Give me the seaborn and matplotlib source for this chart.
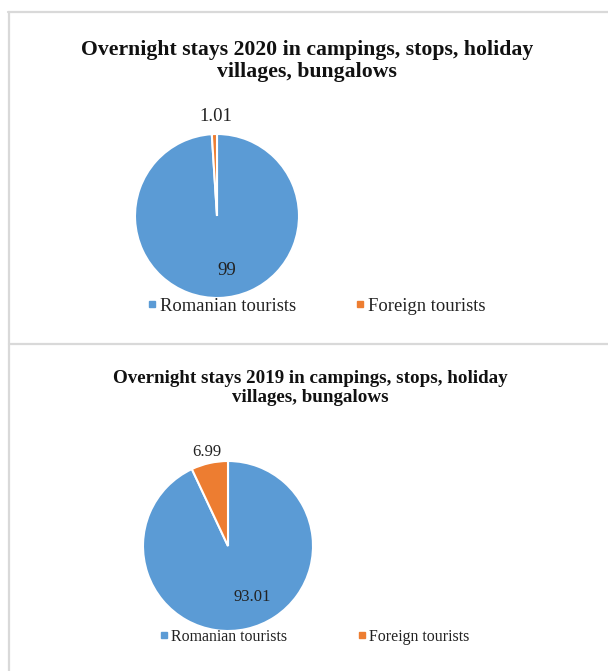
import numpy as np
import matplotlib
matplotlib.use("Agg")
import matplotlib.pyplot as plt
from matplotlib.lines import Line2D
import seaborn as sns

sns.set_theme(style="white")
plt.rcParams['font.family'] = ['Liberation Serif', 'DejaVu Serif']

# data
categories = ['Romanian tourists', 'Foreign tourists']
values_2020 = [99, 1.01]
values_2019 = [93.01, 6.99]
labels_2020 = ['99', '1.01']
labels_2019 = ['93.01', '6.99']
title_2020 = 'Overnight stays 2020 in campings, stops, holiday\nvillages, bungalows'
title_2019 = 'Overnight stays 2019 in campings, stops, holiday\nvillages, bungalows'

colors = ['#5B9BD5', '#ED7D31']
W, H = 608, 671

fig = plt.figure(figsize=(W / 100, H / 100), dpi=100)


def px(x, y):
    # pixel coords (top-left origin) -> figure fraction
    return x / W, 1 - y / H


def draw_pie(values, labels, cx, cy, r, lab_pos, fs_lab):
    ax = fig.add_axes([(cx - r) / W, 1 - (cy + r) / H, 2 * r / W, 2 * r / H])
    ax.pie(values, colors=colors, startangle=90, counterclock=False,
           wedgeprops=dict(edgecolor='white', linewidth=1.5))
    ax.set_xlim(-1, 1)
    ax.set_ylim(-1, 1)
    ax.set_aspect('equal')
    ax.axis('off')
    # label positions from wedge mid angles (clockwise from top)
    total = float(sum(values))
    start = 0.0
    for v, lab, (dist, nudge) in zip(values, labels, lab_pos):
        mid = np.deg2rad(start + v / total * 360 / 2)
        start += v / total * 360
        x = dist * np.sin(mid) + nudge
        y = dist * np.cos(mid)
        ax.text(x, y, lab, ha='center', va='center', fontsize=fs_lab,
                color='#222222', clip_on=False)
    return ax


def draw_legend(x0, yc, fs, colspace):
    handles = [Line2D([], [], marker='s', linestyle='none', markersize=4.3,
                      markerfacecolor=c, markeredgecolor=c) for c in colors]
    fig.legend(handles, categories, loc='center left',
               bbox_to_anchor=px(x0, yc), ncol=2, frameon=False,
               fontsize=fs, handlelength=0.4, handletextpad=0.25,
               columnspacing=colspace, borderpad=0, borderaxespad=0,
               labelcolor='#222222')


# top panel (2020)
fig.text(*px(307, 61), title_2020, ha='center', va='center', fontsize=15.7,
         fontweight='bold', linespacing=1.2, color='#111111')
draw_pie(values_2020, labels_2020, 217, 216, 82,
         [(0.67, 0.10), (1.22, 0.03)], 13.5)
draw_legend(148, 306, 13.4, 3.2)

# bottom panel (2019)
fig.text(*px(310, 388), title_2019, ha='center', va='center', fontsize=13.7,
         fontweight='bold', linespacing=1.18, color='#111111')
draw_pie(values_2019, labels_2019, 228, 546, 85,
         [(0.62, 0.15), (1.13, 0.0)], 12)
draw_legend(161, 637, 11.4, 4.5)

# table-like borders
border = dict(color='#d9d9d9', linewidth=1.6, transform=fig.transFigure)
fig.add_artist(Line2D([px(8, 0)[0], 1], [px(0, 12)[1]] * 2, **border))
fig.add_artist(Line2D([px(9, 0)[0]] * 2, [px(0, 12)[1], 0], **border))
fig.add_artist(Line2D([px(9, 0)[0], 1], [px(0, 344)[1]] * 2, **border))

plt.savefig('out.png', dpi=100)
